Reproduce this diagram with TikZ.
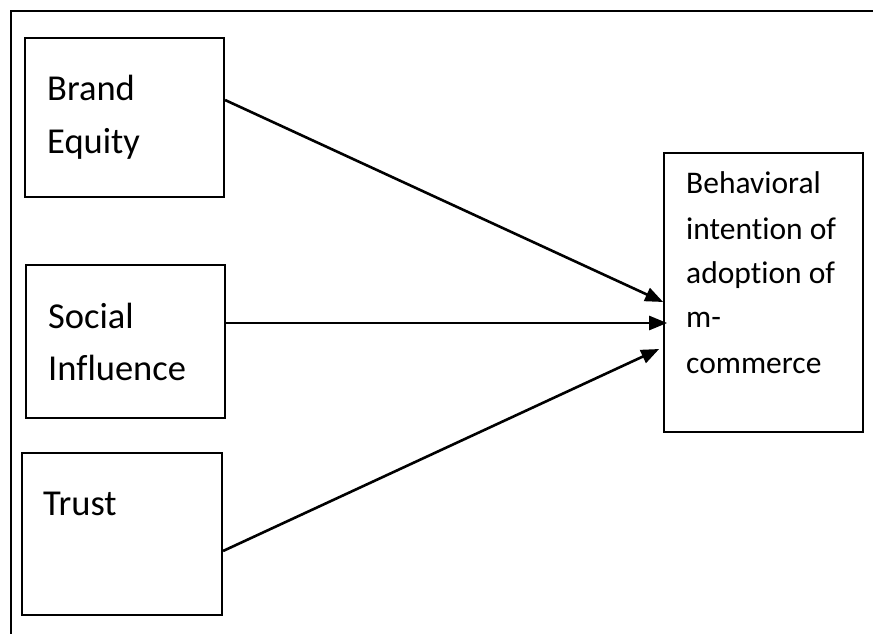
\documentclass[tikz,border=0pt]{standalone}
\usepackage{fontspec}
\setmainfont{Carlito}[Ligatures={NoCommon}]
\usetikzlibrary{arrows.meta}
\begin{document}
\begin{tikzpicture}[x=1pt,y=-1pt,
  box/.style={draw,line width=2.1pt,inner sep=0pt,minimum width=#1},
  bigtxt/.style={anchor=base west,inner sep=0pt,font=\fontsize{36.5}{43}\selectfont},
  smalltxt/.style={anchor=base west,inner sep=0pt,font=\fontsize{31.5}{38}\selectfont},
  link/.style={line width=2.6pt,-{Triangle[length=18pt,width=14pt]}}]
\useasboundingbox (0,0) rectangle (873,634);
% frame (top and left edges)
\coordinate (fbl) at (11,634);
\coordinate (ftl) at (11,11);
\coordinate (ftr) at (873,11);
\draw[line width=2.3pt] (fbl) -- (ftl) -- (ftr);
% boxes
\node[box=199pt,minimum height=159pt] (be) at (124.5,117.5) {};
\node[box=199pt,minimum height=153pt] (si) at (125.5,341.5) {};
\node[box=200pt,minimum height=162pt] (tr) at (122,534) {};
\node[box=199pt,minimum height=279pt,line width=1.7pt] (tg) at (763.5,292.5) {};
% texts
\node[bigtxt] (be1) at (47,100) {Brand};
\node[bigtxt] (be2) at (47,153) {Equity};
\node[bigtxt] (si1) at (48,328) {Social};
\node[bigtxt] (si2) at (48,380) {Influence};
\node[bigtxt] (tr1) at (43,515) {Trust};
\node[smalltxt] (tg1) at (686,193) {Behavioral};
\node[smalltxt] (tg2) at (686,239) {intention of};
\node[smalltxt] (tg3) at (686,283) {adoption of};
\node[smalltxt] (tg4) at (686,327) {m-};
\node[smalltxt] (tg5) at (686,373) {commerce};
% connectors
\draw[link] ([yshift=17.5pt]be.east) -- ([yshift=-9.5pt]tg.west);
\draw[link] ([yshift=18.5pt]si.east) -- ([xshift=4pt,yshift=-30.5pt]tg.west);
\draw[link] ([yshift=-17pt]tr.east) -- ([xshift=-4pt,yshift=-56.5pt]tg.west);
\end{tikzpicture}
\end{document}
